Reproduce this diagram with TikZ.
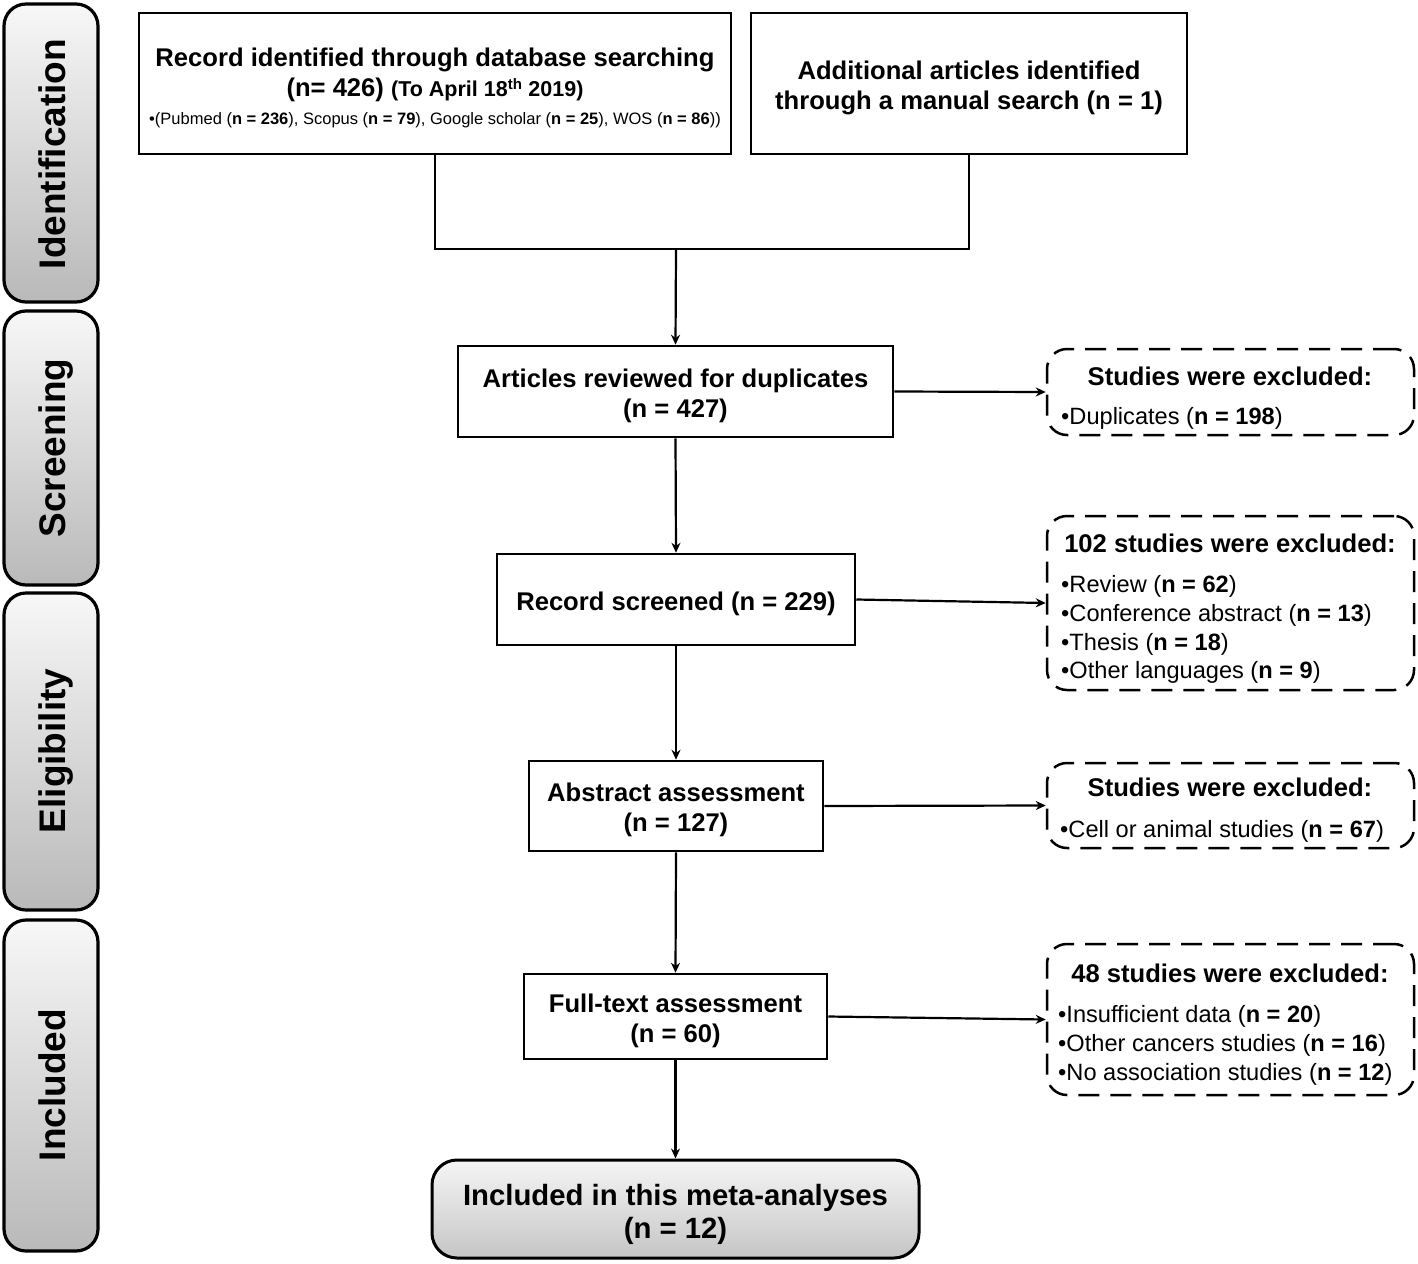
\documentclass[tikz,border=0pt]{standalone}
\usepackage{fontspec}
\setmainfont{Liberation Sans}
\usetikzlibrary{arrows.meta}
\begin{document}
\begin{tikzpicture}[x=1pt,y=-1pt,
  box/.style={draw,line width=2.5pt,inner sep=0pt},
  btx/.style={align=center,inner sep=0pt,font=\fontsize{25.6}{30}\selectfont\bfseries},
  dbox/.style={draw,line width=2.5pt,dash pattern=on 21pt off 11pt,rounded corners=20pt,inner sep=0pt},
  side/.style={draw,line width=3.2pt,rounded corners=22pt,top color=gray!6,bottom color=gray!55,inner sep=0pt,minimum width=94pt},
  sidetxt/.style={rotate=90,font=\fontsize{37}{40}\selectfont\bfseries,anchor=base,inner sep=0pt},
  bt/.style={font=\fontsize{25.6}{30}\selectfont\bfseries,inner sep=0pt},
  itm/.style={font=\fontsize{23.6}{28}\selectfont,anchor=west,inner sep=0pt},
  arr/.style={line width=2.2pt,-{Stealth[length=10pt,width=9pt]}},
  ln/.style={line width=2.2pt}]
\useasboundingbox (0,0) rectangle (1418,1263);

% side labels
\node[side,minimum height=298pt] (s1) at (51,153) {};
\node[sidetxt] (s1t) at (65,154) {Identification};
\node[side,minimum height=274pt] (s2) at (51,448) {};
\node[sidetxt] (s2t) at (65,448) {Screening};
\node[side,minimum height=317pt] (s3) at (51,751.5) {};
\node[sidetxt] (s3t) at (65,751) {Eligibility};
\node[side,minimum height=331pt] (s4) at (51,1085.5) {};
\node[sidetxt] (s4t) at (65,1085) {Included};

% main boxes
\node[box,minimum width=592pt,minimum height=141pt] (b1) at (435,83.5) {};
\node[btx] (b1t) at (435,88)
  {Record identified through database searching\\
   (n= 426) {\fontsize{21.5}{26}\selectfont (To April 18\textsuperscript{th} 2019)}\\[-2pt]
   {\fontsize{16.5}{20}\selectfont\mdseries •(Pubmed (\textbf{n = 236}), Scopus (\textbf{n = 79}), Google scholar (\textbf{n = 25}), WOS (\textbf{n = 86}))}};
\node[box,minimum width=436pt,minimum height=141pt] (b2) at (969,83.5) {};
\node[btx] (b2t) at (969,88) {Additional articles identified\\through a manual search (n = 1)};
\node[box,minimum width=435pt,minimum height=91pt] (b3) at (675.5,391.5) {};
\node[btx] (b3t) at (675.5,395.5) {Articles reviewed for duplicates\\(n = 427)};
\node[box,minimum width=358pt,minimum height=91pt] (b4) at (676,599.5) {};
\node[btx] (b4t) at (676,603.5) {Record screened (n = 229)};
\node[box,minimum width=294pt,minimum height=90pt] (b5) at (676,806) {};
\node[btx] (b5t) at (676,810) {Abstract assessment\\(n = 127)};
\node[box,minimum width=303pt,minimum height=85pt] (b6) at (675.5,1016.5) {};
\node[btx] (b6t) at (675.5,1020.5) {Full-text assessment\\(n = 60)};
\node[box,rounded corners=25pt,line width=3pt,top color=gray!8,bottom color=gray!45,
      minimum width=487pt,minimum height=98pt] (b7) at (675.5,1209) {};
\node[btx,font=\fontsize{29.3}{33}\selectfont\bfseries] (b7t) at (675.5,1214.5)
  {Included in this meta-analyses\\(n = 12)};

% dashed boxes
\node[dbox,minimum width=367pt,minimum height=86pt] (d1) at (1230.5,392) {};
\node[bt] (d1t) at (1230,376) {Studies were excluded:};
\node[itm] (d1a) at (1061,418) {•Duplicates (\textbf{n = 198})};

\node[dbox,minimum width=367pt,minimum height=174pt] (d2) at (1230.5,603) {};
\node[bt] (d2t) at (1230,543) {102 studies were excluded:};
\node[itm] (d2a) at (1061,586) {•Review (\textbf{n = 62})};
\node[itm] (d2b) at (1061,615) {•Conference abstract (\textbf{n = 13})};
\node[itm] (d2c) at (1061,644) {•Thesis (\textbf{n = 18})};
\node[itm] (d2d) at (1061,672) {•Other languages (\textbf{n = 9})};

\node[dbox,minimum width=367pt,minimum height=85pt] (d3) at (1230.5,805.5) {};
\node[bt] (d3t) at (1230,787) {Studies were excluded:};
\node[itm] (d3a) at (1060,831) {•Cell or animal studies (\textbf{n = 67})};

\node[dbox,minimum width=367pt,minimum height=151pt] (d4) at (1230.5,1019.5) {};
\node[bt] (d4t) at (1230,973) {48 studies were excluded:};
\node[itm] (d4a) at (1058,1016) {•Insufficient data (\textbf{n = 20})};
\node[itm] (d4b) at (1058,1045) {•Other cancers studies (\textbf{n = 16})};
\node[itm] (d4c) at (1058,1074) {•No association studies (\textbf{n = 12})};

% connectors
\coordinate (j) at (676,249);
\draw[ln] (b1.south) -- (b1.south |- j) -- (b2.south |- j) -- (b2.south);
\draw[arr] (j) -- (b3.north);
\draw[arr] (b3.south) -- (b4.north);
\draw[arr] (b4.south) -- (b5.north);
\draw[arr] (b5.south) -- (b6.north);
\draw[arr] (b6.south) -- (b7.north);
\draw[arr] (b3.east) -- (d1.west);
\draw[arr] (b4.east) -- (d2.west);
\draw[arr] (b5.east) -- (d3.west);
\draw[arr] (b6.east) -- (d4.west);
\end{tikzpicture}
\end{document}
